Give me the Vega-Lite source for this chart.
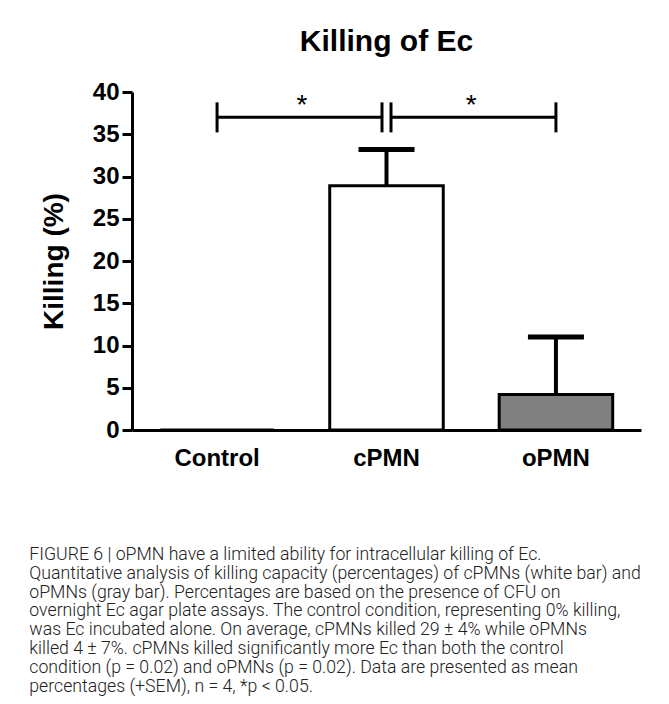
{
  "$schema": "https://vega.github.io/schema/vega-lite/v6.json",
  "background": "white",
  "padding": {"left": 29, "top": 26, "right": 10, "bottom": 2},
  "config": {
    "view": {"stroke": null},
    "font": "Liberation Sans"
  },
  "datasets": {
    "groups": [
      {"group": "Control", "mean": 0, "upper": 0},
      {"group": "cPMN", "mean": 28.9, "upper": 33.2},
      {"group": "oPMN", "mean": 4.2, "upper": 11.0}
    ],
    "brackets": [
      {"g1": "Control", "g2": "cPMN", "level": 37, "label": "*"},
      {"g1": "cPMN", "g2": "oPMN", "level": 37, "label": "*"}
    ]
  },
  "title": {
    "text": [
      "FIGURE 6 | oPMN have a limited ability for intracellular killing of Ec.",
      "Quantitative analysis of killing capacity (percentages) of cPMNs (white bar) and",
      "oPMNs (gray bar). Percentages are based on the presence of CFU on",
      "overnight Ec agar plate assays. The control condition, representing 0% killing,",
      "was Ec incubated alone. On average, cPMNs killed 29 ± 4% while oPMNs",
      "killed 4 ± 7%. cPMNs killed significantly more Ec than both the control",
      "condition (p = 0.02) and oPMNs (p = 0.02). Data are presented as mean",
      "percentages (+SEM), n = 4, *p < 0.05."
    ],
    "orient": "bottom",
    "anchor": "start",
    "font": "Roboto",
    "fontWeight": 300,
    "fontSize": 17.7,
    "lineHeight": 18.8,
    "color": "#222222",
    "offset": 76,
    "dx": -11
  },
  "vconcat": [
    {
      "width": 509,
      "height": 338,
      "title": {
        "text": "Killing of Ec",
        "font": "Liberation Sans",
        "fontSize": 30,
        "fontWeight": "bold",
        "color": "black",
        "anchor": "middle",
        "frame": "group",
        "offset": 23.5
      },
      "encoding": {
        "x": {
          "field": "group",
          "type": "nominal",
          "sort": null,
          "scale": {"domain": ["Control", "cPMN", "oPMN"], "paddingInner": 0.33, "paddingOuter": 0.167},
          "axis": {
            "title": null,
            "ticks": false,
            "labelAngle": 0,
            "labelFont": "Liberation Sans",
            "labelFontSize": 24,
            "labelFontWeight": "bold",
            "labelColor": "black",
            "labelPadding": 16,
            "domainColor": "black",
            "domainWidth": 3
          }
        }
      },
      "layer": [
        {
          "data": {"name": "groups"},
          "mark": {"type": "bar", "stroke": "black", "strokeWidth": 3},
          "encoding": {
            "y": {
              "field": "mean",
              "type": "quantitative",
              "scale": {"domain": [0, 40]},
              "axis": {
                "title": "Killing (%)",
                "titleFont": "Liberation Sans",
                "titleFontSize": 28,
                "titleFontWeight": "bold",
                "titleColor": "black",
                "titlePadding": 24,
                "values": [0, 5, 10, 15, 20, 25, 30, 35, 40],
                "grid": false,
                "labelFont": "Liberation Sans",
                "labelFontSize": 24,
                "labelFontWeight": "bold",
                "labelColor": "black",
                "labelPadding": 3,
                "tickSize": 10,
                "tickWidth": 3,
                "tickColor": "black",
                "domainColor": "black",
                "domainWidth": 3
              }
            },
            "fill": {
              "field": "group",
              "type": "nominal",
              "scale": {"domain": ["Control", "cPMN", "oPMN"], "range": ["#ffffff", "#ffffff", "#808080"]},
              "legend": null
            }
          }
        },
        {
          "data": {"name": "groups"},
          "transform": [{"filter": "datum.upper > datum.mean"}],
          "mark": {"type": "rule", "strokeWidth": 4, "color": "black"},
          "encoding": {
            "y": {"field": "mean", "type": "quantitative"},
            "y2": {"field": "upper"}
          }
        },
        {
          "data": {"name": "groups"},
          "transform": [{"filter": "datum.upper > datum.mean"}],
          "mark": {"type": "tick", "orient": "horizontal", "size": 56, "thickness": 5, "color": "black", "opacity": 1},
          "encoding": {
            "y": {"field": "upper", "type": "quantitative"}
          }
        },
        {
          "data": {"name": "brackets"},
          "transform": [{"filter": "datum.g1 == 'Control'"}],
          "mark": {"type": "rule", "strokeWidth": 3, "color": "black", "x2Offset": -4.5},
          "encoding": {
            "x": {"field": "g1", "type": "nominal"},
            "x2": {"field": "g2"},
            "y": {"field": "level", "type": "quantitative"}
          }
        },
        {
          "data": {"name": "brackets"},
          "transform": [{"filter": "datum.g1 == 'cPMN'"}],
          "mark": {"type": "rule", "strokeWidth": 3, "color": "black", "xOffset": 4.5},
          "encoding": {
            "x": {"field": "g1", "type": "nominal"},
            "x2": {"field": "g2"},
            "y": {"field": "level", "type": "quantitative"}
          }
        },
        {
          "data": {"name": "brackets"},
          "transform": [{"filter": "datum.g1 == 'Control'"}],
          "mark": {"type": "tick", "orient": "vertical", "size": 30, "thickness": 3, "color": "black", "opacity": 1},
          "encoding": {
            "x": {"field": "g1", "type": "nominal"},
            "y": {"field": "level", "type": "quantitative"}
          }
        },
        {
          "data": {"name": "brackets"},
          "transform": [{"filter": "datum.g1 == 'Control'"}],
          "mark": {"type": "tick", "orient": "vertical", "size": 30, "thickness": 3, "color": "black", "opacity": 1, "xOffset": -4.5},
          "encoding": {
            "x": {"field": "g2", "type": "nominal"},
            "y": {"field": "level", "type": "quantitative"}
          }
        },
        {
          "data": {"name": "brackets"},
          "transform": [{"filter": "datum.g1 == 'cPMN'"}],
          "mark": {"type": "tick", "orient": "vertical", "size": 30, "thickness": 3, "color": "black", "opacity": 1, "xOffset": 4.5},
          "encoding": {
            "x": {"field": "g1", "type": "nominal"},
            "y": {"field": "level", "type": "quantitative"}
          }
        },
        {
          "data": {"name": "brackets"},
          "transform": [{"filter": "datum.g1 == 'cPMN'"}],
          "mark": {"type": "tick", "orient": "vertical", "size": 30, "thickness": 3, "color": "black", "opacity": 1},
          "encoding": {
            "x": {"field": "g2", "type": "nominal"},
            "y": {"field": "level", "type": "quantitative"}
          }
        },
        {
          "data": {"name": "brackets"},
          "mark": {"type": "text", "fontSize": 28, "font": "Liberation Sans", "color": "black", "baseline": "alphabetic", "dy": -3},
          "encoding": {
            "x": {"field": "g1", "type": "nominal", "bandPosition": 1.247},
            "y": {"field": "level", "type": "quantitative"},
            "text": {"field": "label"}
          }
        }
      ]
    }
  ]
}
